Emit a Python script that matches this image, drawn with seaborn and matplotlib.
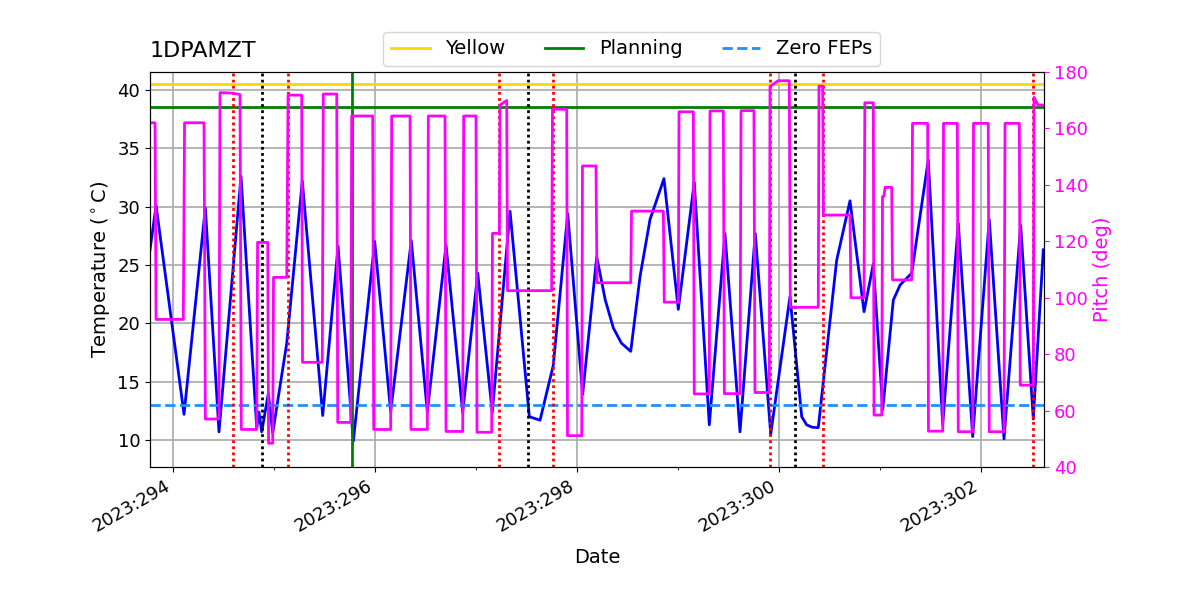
# %%
# Imports and settings
import numpy as np
import pandas as pd
import seaborn as sns
import matplotlib
matplotlib.use("Agg")
import matplotlib.pyplot as plt
import matplotlib.dates as mdates

plt.rcParams["font.size"] = 14
plt.rcParams["xtick.labelsize"] = 13
plt.rcParams["ytick.labelsize"] = 13

# %%
# Data (times are 2023 day-of-year, fractional)
temp_days = [293.772, 293.832, 294.109, 294.320, 294.455, 294.673, 294.829, 294.851,
             294.878, 294.944, 294.987, 295.126, 295.280, 295.482, 295.634, 295.785,
             295.997, 296.155, 296.359, 296.518, 296.703, 296.868, 297.017, 297.161,
             297.337, 297.528, 297.634, 297.765, 297.908, 298.056, 298.195, 298.280,
             298.360, 298.440, 298.532, 298.624, 298.723, 298.861, 299.003, 299.161,
             299.310, 299.465, 299.614, 299.765, 299.918, 300.109, 300.225, 300.274,
             300.327, 300.389, 300.571, 300.703, 300.842, 300.934, 301.027, 301.132,
             301.200, 301.314, 301.478, 301.621, 301.775, 301.918, 302.082, 302.228,
             302.393, 302.518, 302.617]
temp_vals = [26.3, 30.1, 12.2, 29.9, 10.7, 32.6, 11.0, 12.4,
             10.7, 14.0, 10.6, 18.3, 32.2, 12.1, 26.6, 9.9,
             27.0, 12.4, 27.1, 12.4, 26.7, 12.35, 24.3, 12.35,
             29.6, 12.0, 11.7, 16.4, 29.4, 13.9, 25.7, 22.0,
             19.6, 18.3, 17.6, 24.0, 28.9, 32.4, 21.2, 32.1,
             11.3, 27.7, 10.7, 27.7, 10.5, 22.3, 12.0, 11.3,
             11.1, 11.06, 25.4, 30.5, 21.0, 25.1, 12.6, 22.0,
             23.3, 24.3, 34.0, 11.3, 28.6, 10.3, 28.9, 10.1,
             28.4, 11.8, 26.3]

pitch_days = [293.772, 293.822, 293.832, 294.102, 294.114, 294.307, 294.320, 294.455,
              294.465, 294.594, 294.663, 294.676, 294.829, 294.837, 294.938, 294.946,
              294.987, 294.995, 295.126, 295.139, 295.274, 295.282, 295.478, 295.488,
              295.621, 295.631, 295.759, 295.769, 295.977, 295.987, 296.155, 296.165,
              296.347, 296.356, 296.518, 296.528, 296.693, 296.703, 296.868, 296.878,
              297.000, 297.010, 297.155, 297.163, 297.231, 297.238, 297.304, 297.312,
              297.749, 297.757, 297.898, 297.906, 298.047, 298.054, 298.188, 298.198,
              298.532, 298.540, 298.855, 298.864, 299.003, 299.010, 299.152, 299.161,
              299.310, 299.317, 299.449, 299.459, 299.614, 299.624, 299.752, 299.762,
              299.904, 299.911, 299.990, 300.102, 300.112, 300.389, 300.396, 300.432,
              300.440, 300.703, 300.713, 300.842, 300.850, 300.934, 300.941, 301.017,
              301.025, 301.040, 301.050, 301.116, 301.124, 301.314, 301.322, 301.472,
              301.480, 301.621, 301.629, 301.766, 301.775, 301.918, 301.926, 302.072,
              302.082, 302.228, 302.238, 302.380, 302.389, 302.518, 302.525, 302.564,
              302.624]
pitch_vals = [162.0, 162.0, 92.3, 92.3, 162.0, 162.0, 57.0, 57.0,
              172.7, 172.5, 172.0, 53.3, 53.3, 119.6, 119.6, 48.4,
              48.4, 107.2, 107.2, 171.8, 171.8, 77.1, 77.1, 172.2,
              172.2, 55.8, 55.8, 164.4, 164.4, 53.3, 53.3, 164.4,
              164.4, 53.3, 53.3, 164.4, 164.4, 52.6, 52.6, 164.4,
              164.4, 52.3, 52.3, 122.8, 122.8, 168.3, 169.9, 102.5,
              102.5, 166.8, 166.8, 51.1, 51.1, 146.7, 146.7, 105.3,
              105.3, 130.7, 130.7, 98.4, 98.4, 165.9, 165.9, 65.9,
              65.9, 166.2, 166.2, 66.0, 66.0, 166.3, 166.3, 66.4,
              66.4, 174.8, 176.9, 176.9, 96.6, 96.6, 175.0, 175.0,
              129.3, 129.3, 100.0, 100.0, 169.1, 169.1, 58.4, 58.4,
              135.8, 136.0, 139.1, 139.1, 106.3, 106.3, 161.8, 161.8,
              52.7, 52.7, 161.8, 161.8, 52.5, 52.5, 161.8, 161.8,
              52.5, 52.5, 161.8, 161.8, 69.0, 69.0, 171.0, 168.3,
              168.3]

# limit lines (degC) and event times (day-of-year)
yellow_limit = 40.5
planning_limit = 38.5
zero_feps_limit = 13.0
planning_day = 295.77
red_event_days = [294.594, 295.139, 297.228, 297.762, 299.911, 300.436, 302.515]
black_event_days = [294.881, 297.515, 300.158]

day_min, day_max = 293.772, 302.624


def doy_to_date(days):
    days = np.asarray(days, dtype=float)
    return pd.Timestamp("2023-01-01") + pd.to_timedelta(days - 1.0, unit="D")


df_temp = pd.DataFrame({"time": doy_to_date(temp_days), "temp": temp_vals})
df_pitch = pd.DataFrame({"time": doy_to_date(pitch_days), "pitch": pitch_vals})

# %%
# Plot
fig = plt.figure(figsize=(12, 6), dpi=100)
ax = fig.add_axes([0.125, 0.2217, 0.745, 0.6583])

sns.lineplot(data=df_temp, x="time", y="temp", color="blue", lw=2,
             estimator=None, sort=False, ax=ax)
ax.axhline(yellow_limit, color="gold", lw=2, label="Yellow")
ax.axhline(planning_limit, color="green", lw=2, label="Planning")
ax.axhline(zero_feps_limit, color="dodgerblue", lw=2, ls="--", label="Zero FEPs")
ax.axvline(doy_to_date([planning_day])[0], color="green", lw=2)
for d in red_event_days:
    ax.axvline(doy_to_date([d])[0], color="red", lw=2, ls=(0, (1, 1.2)))
for d in black_event_days:
    ax.axvline(doy_to_date([d])[0], color="black", lw=2, ls=(0, (1, 1.2)))

ax.set_xlim(doy_to_date([day_min])[0], doy_to_date([day_max])[0])
ax.set_ylim(7.69, 41.54)
ax.grid(True, color="#b0b0b0", lw=1.3)
ax.set_xlabel("Date", labelpad=9)
ax.set_ylabel(r"Temperature ($^\circ$C)")
ax.set_title("1DPAMZT", loc="left", fontsize=16, pad=11)

ax.xaxis.set_major_locator(mdates.DayLocator(bymonthday=[21, 23, 25, 27, 29]))
ax.xaxis.set_minor_locator(mdates.DayLocator())
ax.xaxis.set_major_formatter(mdates.DateFormatter("%Y:%j"))
plt.setp(ax.get_xticklabels(), rotation=30, ha="right")

ax2 = ax.twinx()
sns.lineplot(data=df_pitch, x="time", y="pitch", color="magenta", lw=2,
             estimator=None, sort=False, ax=ax2)
ax2.set_ylim(40, 180)
ax2.set_ylabel("Pitch (deg)", color="magenta")
ax2.tick_params(axis="y", colors="magenta")
ax2.spines["right"].set_color("black")
ax2.set_xlim(doy_to_date([day_min])[0], doy_to_date([day_max])[0])

ax.legend(loc="lower left", bbox_to_anchor=(0.25, 0.99), ncol=3)

fig.savefig("out.png", dpi=100)
